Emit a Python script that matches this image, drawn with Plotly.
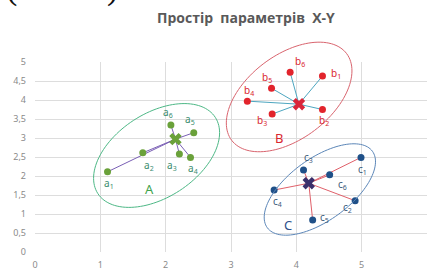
import numpy as np
import plotly.graph_objects as go

# ---- data ----
a_x = [1.11, 1.65, 2.21, 2.38, 2.43, 2.08]
a_y = [2.11, 2.61, 2.58, 2.49, 3.14, 3.34]
a_center = [2.15, 2.97]
b_x = [4.40, 4.40, 3.63, 3.25, 3.62, 3.905]
b_y = [4.63, 3.75, 3.63, 3.97, 4.31, 4.73]
b_center = [4.04, 3.89]
c_x = [4.99, 4.90, 4.11, 3.66, 4.25, 4.51]
c_y = [2.49, 1.35, 2.16, 1.63, 0.84, 2.03]
c_center = [4.19, 1.81]
a_names = ["a<sub>%d</sub>" % i for i in range(1, 7)]
b_names = ["b<sub>%d</sub>" % i for i in range(1, 7)]
c_names = ["c<sub>%d</sub>" % i for i in range(1, 7)]
cluster_names = ["A", "B", "C"]
cluster_label_pos = [[1.76, 1.65], [3.73, 2.99], [3.88, 0.71]]
x_ticks = [0, 1, 2, 3, 4, 5, 6]
x_ticklabels = ["0", "1", "2", "3", "4", "5", "6"]
y_ticks = [0, 0.5, 1, 1.5, 2, 2.5, 3, 3.5, 4, 4.5, 5]
y_ticklabels = ["0", "0,5", "1", "1,5", "2", "2,5", "3", "3,5", "4", "4,5", "5"]
title_words = ["Простір", "параметрів", "X-Y"]

# ---- styling / layout config ----
W, H = 428, 269
ML, MR, MT, MB = 35, 1, 62, 17
XR, YR = [0, 6], [0, 5]
PW, PH = W - ML - MR, H - MT - MB
pxu_x = PW / (XR[1] - XR[0])
pxu_y = PH / (YR[1] - YR[0])


def px2paper(px, py):
    return (px - ML) / PW, (H - MB - py) / PH


# label offsets in px (dx right, dy down)
a_off = [(1, 12), (6, 13), (-7, 12), (3, 11), (-4, -13), (-3, -13)]
b_off = [(14, -3), (2, 11), (-10, 6), (2, -11), (-5, -11), (10, -11)]
c_off = [(1, 12), (-8, 7), (5, -12), (3, 11), (12, -3), (13, 10)]

# ellipses: center (data), semi-axes (px), angle (deg)
ellipses = [
    dict(c=(1.861, 2.54), a=70, b=42, ang=33, color="#4DB886"),
    dict(c=(3.89, 4.08), a=72, b=42, ang=37, color="#D9646E"),
    dict(c=(4.36, 1.645), a=65, b=31, ang=36, color="#5B86B8"),
]

clusters = [
    dict(x=a_x, y=a_y, c=a_center, names=a_names, off=a_off, pt="#6AA13A", lab="#3A8C6E",
         line="#7A5FB5", cx="#6AA13A", big="#3FA34D"),
    dict(x=b_x, y=b_y, c=b_center, names=b_names, off=b_off, pt="#E2242C", lab="#D9262E",
         line="#4DA6C0", cx="#D9263A", big="#D9262E"),
    dict(x=c_x, y=c_y, c=c_center, names=c_names, off=c_off, pt="#1F5088", lab="#3C5A7A",
         line="#E0606A", cx="#3B2F6B", big="#2F4F8A"),
]

fig = go.Figure()
annotations = []
shapes = []

for e in ellipses:
    t = np.linspace(0, 2 * np.pi, 121)
    th = np.radians(e["ang"])
    dxp = e["a"] * np.cos(t) * np.cos(th) - e["b"] * np.sin(t) * np.sin(th)
    dyp = e["a"] * np.cos(t) * np.sin(th) + e["b"] * np.sin(t) * np.cos(th)
    ex = e["c"][0] + dxp / pxu_x
    ey = e["c"][1] + dyp / pxu_y
    px_ = (ex - XR[0]) / (XR[1] - XR[0])
    py_ = (ey - YR[0]) / (YR[1] - YR[0])
    path = "M " + " L ".join("%.5f,%.5f" % (u, v) for u, v in zip(px_, py_)) + " Z"
    shapes.append(dict(type="path", xref="paper", yref="paper", path=path,
                       line=dict(color=e["color"], width=1), layer="above"))

for k, cl in enumerate(clusters):
    lx, ly = [], []
    for x, y in zip(cl["x"], cl["y"]):
        lx += [cl["c"][0], x, None]
        ly += [cl["c"][1], y, None]
    fig.add_trace(go.Scatter(x=lx, y=ly, mode="lines", line=dict(color=cl["line"], width=1),
                             hoverinfo="skip", showlegend=False))
for k, cl in enumerate(clusters):
    fig.add_trace(go.Scatter(x=cl["x"], y=cl["y"], mode="markers",
                             marker=dict(color=cl["pt"], size=7, line=dict(width=0)),
                             showlegend=False))
    fig.add_trace(go.Scatter(x=[cl["c"][0]], y=[cl["c"][1]], mode="markers",
                             marker=dict(color=cl["cx"], size=11, symbol="x", line=dict(width=0)),
                             showlegend=False))
    for x, y, n, (dx, dy) in zip(cl["x"], cl["y"], cl["names"], cl["off"]):
        annotations.append(dict(x=x, y=y, text=n, showarrow=False, xshift=dx, yshift=-dy,
                                xanchor="center", yanchor="middle",
                                font=dict(size=10, color=cl["lab"], family="Noto Sans")))
    annotations.append(dict(x=cluster_label_pos[k][0], y=cluster_label_pos[k][1],
                            text=cluster_names[k], showarrow=False,
                            xanchor="center", yanchor="middle",
                            font=dict(size=13, color=cl["big"], family="Noto Sans")))

tx, ty = px2paper(246, 18)
annotations.append(dict(xref="paper", yref="paper", x=tx, y=ty, xanchor="center", yanchor="middle",
                        text="<b>" + "&nbsp;&nbsp;".join(title_words) + "</b>", showarrow=False,
                        font=dict(size=14, color="#595959", family="Open Sans")))
# cut-off text fragment from page above
for s, pxx in [("(", 11), (").", 117)]:
    fx, fy = px2paper(pxx, 9)
    annotations.append(dict(xref="paper", yref="paper", x=fx, y=fy, xanchor="center",
                            yanchor="bottom", text=s, showarrow=False,
                            font=dict(size=34, color="#111111", family="Liberation Serif")))

fig.update_layout(
    width=W, height=H, margin=dict(l=ML, r=MR, t=MT, b=MB, autoexpand=False),
    paper_bgcolor="white", plot_bgcolor="white",
    annotations=annotations, shapes=shapes, showlegend=False,
    font=dict(family="Noto Sans", size=9, color="#8A8A8A"),
)
fig.update_xaxes(range=XR, tickvals=x_ticks, ticktext=x_ticklabels, showgrid=True,
                 gridcolor="#DDDDDD", gridwidth=1, zeroline=False, showline=False, automargin=False,
                 ticks="", ticklabelstandoff=6, tickfont=dict(size=9, color="#8A8A8A"))
fig.update_yaxes(range=YR, tickvals=y_ticks, ticktext=y_ticklabels, showgrid=True,
                 gridcolor="#DDDDDD", gridwidth=1, zeroline=False, showline=False, automargin=False,
                 ticks="", ticklabelstandoff=8, tickfont=dict(size=9, color="#8A8A8A"))

fig.write_html("out.html", config={"displayModeBar": False},
               post_script="document.body.style.margin='0';")
